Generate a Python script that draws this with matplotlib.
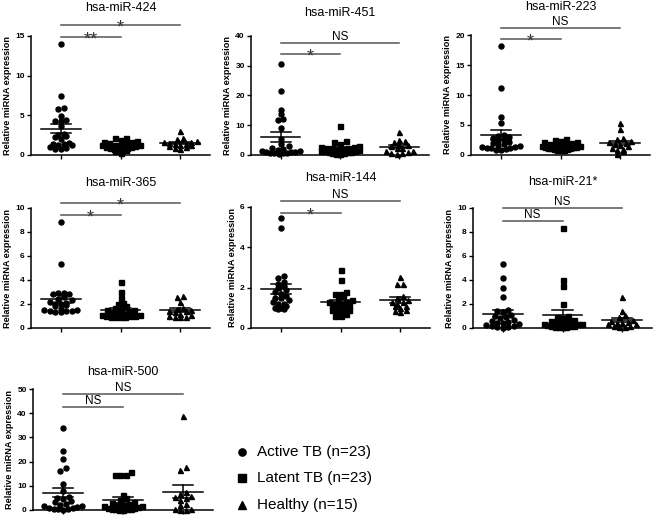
import numpy as np
import matplotlib
matplotlib.use("Agg")
import matplotlib.pyplot as plt
from matplotlib.lines import Line2D

plt.rcParams["font.family"] = ["Liberation Sans", "DejaVu Sans"]

W, H, DPI = 661, 517, 100

# ---- data ----
GROUPS = ["Active TB (n=23)", "Latent TB (n=23)", "Healthy (n=15)"]
MARKERS = ["o", "s", "^"]

mir424_active = [14.0, 7.4, 5.9, 5.8, 4.9, 4.4, 4.3, 4.3, 3.6, 2.7, 2.5, 2.4,
                 2.3, 2.0, 1.5, 1.4, 1.4, 1.3, 1.2, 1.0, 0.9, 0.8, 0.8]
mir424_latent = [2.2, 2.1, 1.9, 1.8, 1.7, 1.6, 1.5, 1.4, 1.3, 1.3, 1.2, 1.2,
                 1.1, 1.0, 1.0, 0.9, 0.9, 0.8, 0.8, 0.7, 0.6, 0.5, 0.3]
mir424_healthy = [3.0, 2.2, 2.0, 1.8, 1.7, 1.6, 1.5, 1.4, 1.4, 1.3, 1.2, 1.1,
                  1.0, 0.9, 0.8]

mir451_active = [30.6, 21.5, 15.2, 13.7, 12.0, 11.6, 9.0, 5.5, 3.6, 3.0, 2.5,
                 2.0, 1.8, 1.5, 1.2, 1.0, 1.0, 0.9, 0.8, 0.8, 0.7, 0.6, 0.5]
mir451_latent = [9.8, 4.6, 4.4, 3.7, 3.0, 2.8, 2.6, 2.5, 2.3, 2.2, 2.0, 1.8,
                 1.6, 1.5, 1.3, 1.2, 1.1, 1.0, 0.9, 0.8, 0.6, 0.4, 0.2]
mir451_healthy = [7.6, 5.0, 4.8, 4.5, 3.5, 3.2, 2.9, 2.5, 2.2, 1.5, 1.2, 1.0,
                  0.8, 0.6, 0.3]

mir223_active = [18.1, 11.1, 6.3, 5.4, 3.4, 3.2, 3.0, 2.8, 2.6, 2.4, 2.2, 2.0,
                 1.8, 1.6, 1.5, 1.4, 1.3, 1.2, 1.2, 1.1, 1.0, 0.9, 0.8]
mir223_latent = [2.6, 2.5, 2.4, 2.2, 2.1, 2.0, 1.9, 1.8, 1.7, 1.6, 1.5, 1.5,
                 1.4, 1.4, 1.3, 1.2, 1.2, 1.1, 1.0, 1.0, 0.9, 0.9, 0.8]
mir223_healthy = [5.3, 4.4, 2.8, 2.6, 2.3, 2.1, 2.0, 1.8, 1.6, 1.5, 1.2, 1.0,
                  0.9, 0.6, 0.2]

mir365_active = [8.8, 5.3, 2.9, 2.9, 2.8, 2.8, 2.6, 2.4, 2.3, 2.2, 2.1, 2.0,
                 2.0, 1.9, 1.8, 1.6, 1.5, 1.5, 1.4, 1.4, 1.4, 1.3, 1.3]
mir365_latent = [3.8, 3.0, 2.5, 2.1, 2.0, 1.8, 1.7, 1.6, 1.5, 1.5, 1.4, 1.3,
                 1.2, 1.2, 1.1, 1.1, 1.0, 1.0, 1.0, 0.9, 0.9, 0.9, 0.9]
mir365_healthy = [2.7, 2.6, 2.2, 1.7, 1.6, 1.5, 1.4, 1.4, 1.3, 1.2, 1.1, 1.0,
                  0.9, 0.9, 0.9]

mir144_active = [5.45, 4.95, 2.6, 2.5, 2.3, 2.2, 2.1, 2.0, 1.9, 1.8, 1.7, 1.6,
                 1.5, 1.5, 1.4, 1.3, 1.2, 1.2, 1.1, 1.0, 1.0, 0.95, 0.95]
mir144_latent = [2.9, 2.4, 1.8, 1.7, 1.7, 1.6, 1.5, 1.4, 1.3, 1.3, 1.2, 1.2,
                 1.1, 1.1, 1.0, 1.0, 0.9, 0.9, 0.8, 0.8, 0.7, 0.6, 0.6]
mir144_healthy = [2.55, 2.2, 2.2, 1.6, 1.5, 1.4, 1.3, 1.3, 1.2, 1.1, 1.1, 1.0,
                  0.9, 0.85, 0.8]

mir21_active = [5.35, 4.2, 3.3, 2.55, 1.5, 1.4, 1.3, 1.1, 1.0, 0.9, 0.8, 0.7,
                0.6, 0.5, 0.45, 0.4, 0.3, 0.25, 0.2, 0.15, 0.1, 0.05, 0.0]
mir21_latent = [8.3, 4.0, 3.5, 2.0, 1.0, 0.9, 0.8, 0.7, 0.6, 0.5, 0.45, 0.4,
                0.35, 0.3, 0.3, 0.25, 0.2, 0.2, 0.15, 0.1, 0.1, 0.05, 0.05]
mir21_healthy = [2.6, 1.4, 1.1, 0.9, 0.7, 0.6, 0.5, 0.4, 0.4, 0.3, 0.3, 0.2,
                 0.15, 0.1, 0.05]

mir500_active = [33.7, 24.4, 21.0, 17.3, 16.2, 10.8, 8.0, 5.5, 5.0, 4.5, 3.8,
                 3.2, 2.5, 2.0, 1.8, 1.5, 1.2, 1.0, 0.8, 0.6, 0.5, 0.3, 0.2]
mir500_latent = [15.5, 14.5, 14.5, 14.5, 6.0, 5.0, 4.2, 3.5, 3.0, 2.5, 2.2,
                 2.0, 1.8, 1.5, 1.2, 1.0, 0.8, 0.6, 0.5, 0.4, 0.3, 0.2, 0.1]
mir500_healthy = [38.8, 17.8, 16.5, 7.5, 6.5, 5.8, 5.5, 4.8, 4.0, 2.5, 2.0,
                  0.5, 0.3, 0.2, 0.1]

TITLES = ["hsa-miR-424", "hsa-miR-451", "hsa-miR-223", "hsa-miR-365",
          "hsa-miR-144", "hsa-miR-21*", "hsa-miR-500"]
PANEL_DATA = [
    (mir424_active, mir424_latent, mir424_healthy),
    (mir451_active, mir451_latent, mir451_healthy),
    (mir223_active, mir223_latent, mir223_healthy),
    (mir365_active, mir365_latent, mir365_healthy),
    (mir144_active, mir144_latent, mir144_healthy),
    (mir21_active, mir21_latent, mir21_healthy),
    (mir500_active, mir500_latent, mir500_healthy),
]
YMAX = [15, 40, 20, 10, 6, 10, 50]
YSTEP = [5, 10, 5, 2, 2, 2, 10]
SIG_SHORT = ["**", "*", "*", "*", "*", "NS", "NS"]   # Active vs Latent
SIG_LONG = ["*", "NS", "NS", "*", "NS", "NS", "NS"]  # Active vs Healthy

# ---- layout (pixel boxes: left, top, right, bottom) ----
BOXES = [(31, 36, 210, 155), (251, 36, 429, 155), (471, 35, 650, 155),
         (31, 208, 210, 328), (251, 207, 430, 328), (473, 208, 652, 328),
         (33, 389, 213, 510)]
TITLE_Y = [8, 13, 7, 183, 178, 182, 372]          # title centre, px from top
LONG_Y = [25, 43, 28, 203, 201, 208, 394]          # bracket 1-3, px from top
SHORT_Y = [37, 54, 39, 215, 213, 221, 407]         # bracket 1-2, px from top
BRACKET_COLOR = "#555555"


def row_scatter_offsets(vals, px_x, px_y, diam, max_px=19):
    """GraphPad-like scatter: bin into rows one marker tall, spread each
    row sideways (spacing squeezed if the row gets too wide)."""
    vals = np.asarray(vals, float)
    offs = np.zeros(len(vals))
    rows = np.floor(vals * px_y / diam).astype(int)
    for r in np.unique(rows):
        idx = np.where(rows == r)[0]
        idx = idx[np.argsort(vals[idx])]
        n = len(idx)
        if n == 1:
            continue
        sp = min(diam * 1.15, 2 * max_px / (n - 1))
        # alternate order so neighbouring values are not all on one side
        pos = (np.arange(n) - (n - 1) / 2) * sp
        order = np.argsort(np.abs(pos), kind="stable")
        for j, k in enumerate(order):
            offs[idx[j]] = pos[k] / px_x
    return offs


fig = plt.figure(figsize=(W / DPI, H / DPI), dpi=DPI)

for p, (title, groups) in enumerate(zip(TITLES, PANEL_DATA)):
    l, t, r, b = BOXES[p]
    ax = fig.add_axes([l / W, 1 - b / H, (r - l) / W, (b - t) / H])
    ax.set_xlim(0.5, 3.5)
    ax.set_ylim(0, YMAX[p])
    px_x = (r - l) / 3.0
    px_y = (b - t) / YMAX[p]

    for g, vals in enumerate(groups):
        x0 = g + 1
        offs = row_scatter_offsets(vals, px_x, px_y, 4.8)
        ax.plot(x0 + offs, vals, ls="none", marker=MARKERS[g], ms=3.6,
                color="black", mec="black", clip_on=False, zorder=3)
        m = np.mean(vals)
        sem = np.std(vals, ddof=1) / np.sqrt(len(vals))
        ax.plot([x0 - 0.33, x0 + 0.33], [m, m], color="black", lw=1.1,
                zorder=4, clip_on=False)
        ax.plot([x0 - 0.17, x0 + 0.17], [m + sem, m + sem], color="black",
                lw=1.1, zorder=4)
        ax.plot([x0 - 0.17, x0 + 0.17], [m - sem, m - sem], color="black",
                lw=1.1, zorder=4)
        ax.plot([x0, x0], [m - sem, m + sem], color="black", lw=1.1, zorder=4)

    # significance brackets
    for (y_px, x2, label) in [(LONG_Y[p], 3, SIG_LONG[p]),
                              (SHORT_Y[p], 2, SIG_SHORT[p])]:
        yf = (b - y_px) / (b - t)
        ax.plot([1, x2], [yf, yf], color=BRACKET_COLOR, lw=1.1,
                transform=ax.get_xaxis_transform(), clip_on=False)
        if label == "NS":
            ax.annotate(label, xy=((1 + x2) / 2, yf),
                        xycoords=("data", "axes fraction"),
                        xytext=(0, 2.2), textcoords="offset points",
                        ha="center", va="baseline", fontsize=8.5)
        else:
            ax.annotate(label, xy=((1 + x2) / 2, yf),
                        xycoords=("data", "axes fraction"),
                        xytext=(0, -5.5), textcoords="offset points",
                        ha="center", va="baseline", fontsize=13,
                        color="#333333")

    ax.annotate(title, xy=(0.5, 1), xycoords="axes fraction",
                xytext=(0, (t - TITLE_Y[p]) * 72 / DPI),
                textcoords="offset points", ha="center", va="center",
                fontsize=9)

    for side in ("top", "right"):
        ax.spines[side].set_visible(False)
    for side in ("left", "bottom"):
        ax.spines[side].set_linewidth(1.1)
    ax.set_xticks([1, 2, 3])
    ax.set_xticklabels([])
    ax.set_yticks(np.arange(0, YMAX[p] + 0.01, YSTEP[p]))
    ax.tick_params(axis="both", length=3, width=1.0, direction="out",
                   labelsize=6, pad=1.5)
    for lab in ax.get_yticklabels():
        lab.set_fontweight("bold")
    ax.set_ylabel("Relative miRNA expression", fontsize=6.6,
                  fontweight="bold", labelpad=2)

# legend
LEGEND_Y = [452, 478, 505]
for m, lab, y in zip(MARKERS, GROUPS, LEGEND_Y):
    fig.add_artist(Line2D([242 / W], [1 - y / H], marker=m, ms=5.2,
                          color="black", ls="none",
                          transform=fig.transFigure))
    fig.text(257 / W, 1 - y / H, lab, fontsize=11, va="center", ha="left")

fig.savefig("out.png", dpi=DPI)
